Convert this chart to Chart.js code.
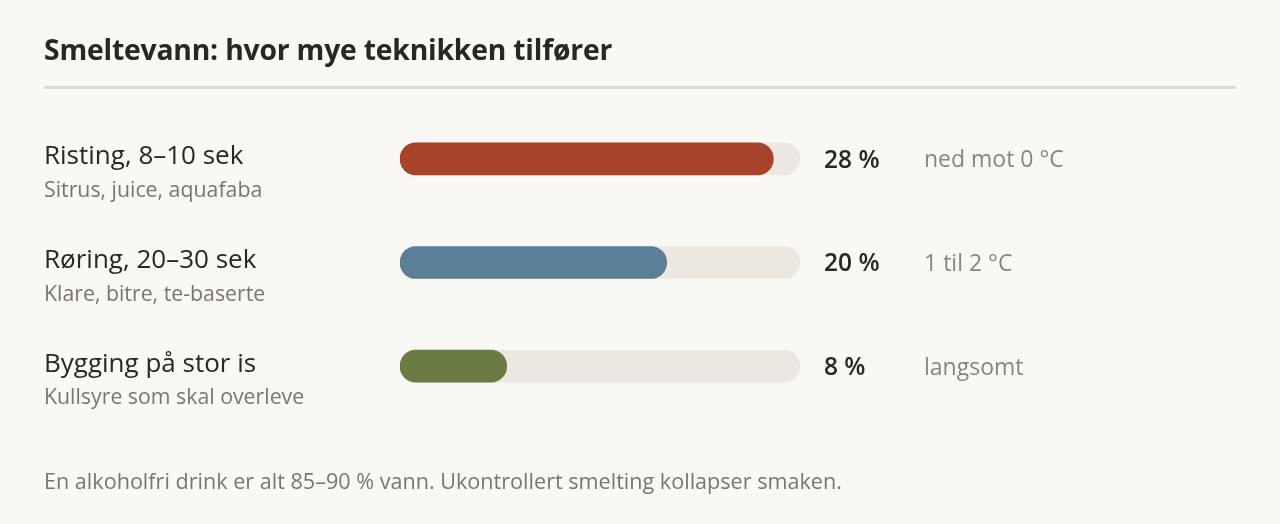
<!DOCTYPE html>
<html lang="no">
<head>
<meta charset="utf-8">
<script src="https://cdn.jsdelivr.net/npm/chart.js@4/dist/chart.umd.min.js"></script>
<style>
  html, body { margin:0; padding:0; background:#f9f8f4; width:1280px; height:524px; overflow:hidden; }
  body { position:relative; font-family:"Open Sans","Noto Sans",sans-serif; }
  #title { position:absolute; left:44px; top:29px; font-size:28.3px; line-height:40px; font-weight:700; color:#2a2723; letter-spacing:-0.2px; white-space:nowrap; }
  #rule { position:absolute; left:44px; top:86px; width:1192px; height:3px; background:#dddbcc; }
  #foot { position:absolute; left:44px; top:466px; font-size:21.6px; line-height:30px; color:#7b766c; white-space:nowrap; }
  #wrap { position:absolute; left:0; top:0; width:1280px; height:524px; }
</style>
</head>
<body>
<div id="wrap"><canvas id="c"></canvas></div>
<div id="title">Smeltevann: hvor mye teknikken tilfører</div>
<div id="rule"></div>
<div id="foot">En alkoholfri drink er alt 85–90 % vann. Ukontrollert smelting kollapser smaken.</div>
<script>
const categories = ["Risting, 8–10 sek", "Røring, 20–30 sek", "Bygging på stor is"];
const subLabels = ["Sitrus, juice, aquafaba", "Klare, bitre, te-baserte", "Kullsyre som skal overleve"];
const values = [28, 20, 8];
const valueLabels = ["28 %", "20 %", "8 %"];
const notes = ["ned mot 0 °C", "1 til 2 °C", "langsomt"];
const maxValue = 30;
const trackValues = categories.map(() => maxValue);
const barColors = ["#a8432b", "#5b7f96", "#6b7b45"];

const FONT = '"Open Sans","Noto Sans",sans-serif';

const textPlugin = {
  id: 'rowText',
  afterDraw(chart) {
    const ctx = chart.ctx;
    const y = chart.scales.y;
    const x = chart.scales.x;
    ctx.save();
    ctx.textBaseline = 'middle';
    categories.forEach((cat, i) => {
      const cy = y.getPixelForValue(i);
      ctx.textAlign = 'left';
      ctx.fillStyle = '#2a2723';
      ctx.font = '500 26px ' + FONT;
      ctx.fillText(cat, 44, cy - 2);
      ctx.fillStyle = '#7b766c';
      ctx.font = '21.3px ' + FONT;
      ctx.fillText(subLabels[i], 44, cy + 32);
      const right = x.getPixelForValue(maxValue);
      ctx.fillStyle = '#2a2723';
      ctx.font = '600 24.5px ' + FONT;
      ctx.fillText(valueLabels[i], right + 24, cy + 2);
      ctx.fillStyle = '#8a857b';
      ctx.font = '23px ' + FONT;
      ctx.fillText(notes[i], right + 124, cy + 2);
    });
    ctx.restore();
  }
};

new Chart(document.getElementById('c'), {
  type: 'bar',
  data: {
    labels: categories,
    datasets: [
      { data: values, backgroundColor: barColors, borderRadius: 16, borderSkipped: false, barThickness: 32, grouped: false, order: 1 },
      { data: trackValues, backgroundColor: '#ece7e0', borderRadius: 16, borderSkipped: false, barThickness: 32, grouped: false, order: 2 }
    ]
  },
  options: {
    indexAxis: 'y',
    responsive: true,
    maintainAspectRatio: false,
    animation: false,
    layout: { padding: { left: 400, right: 480, top: 107, bottom: 106 } },
    scales: {
      x: { display: false, min: 0, max: maxValue },
      y: { display: false }
    },
    plugins: { legend: { display: false }, tooltip: { enabled: false } }
  },
  plugins: [textPlugin]
});
</script>
</body>
</html>
